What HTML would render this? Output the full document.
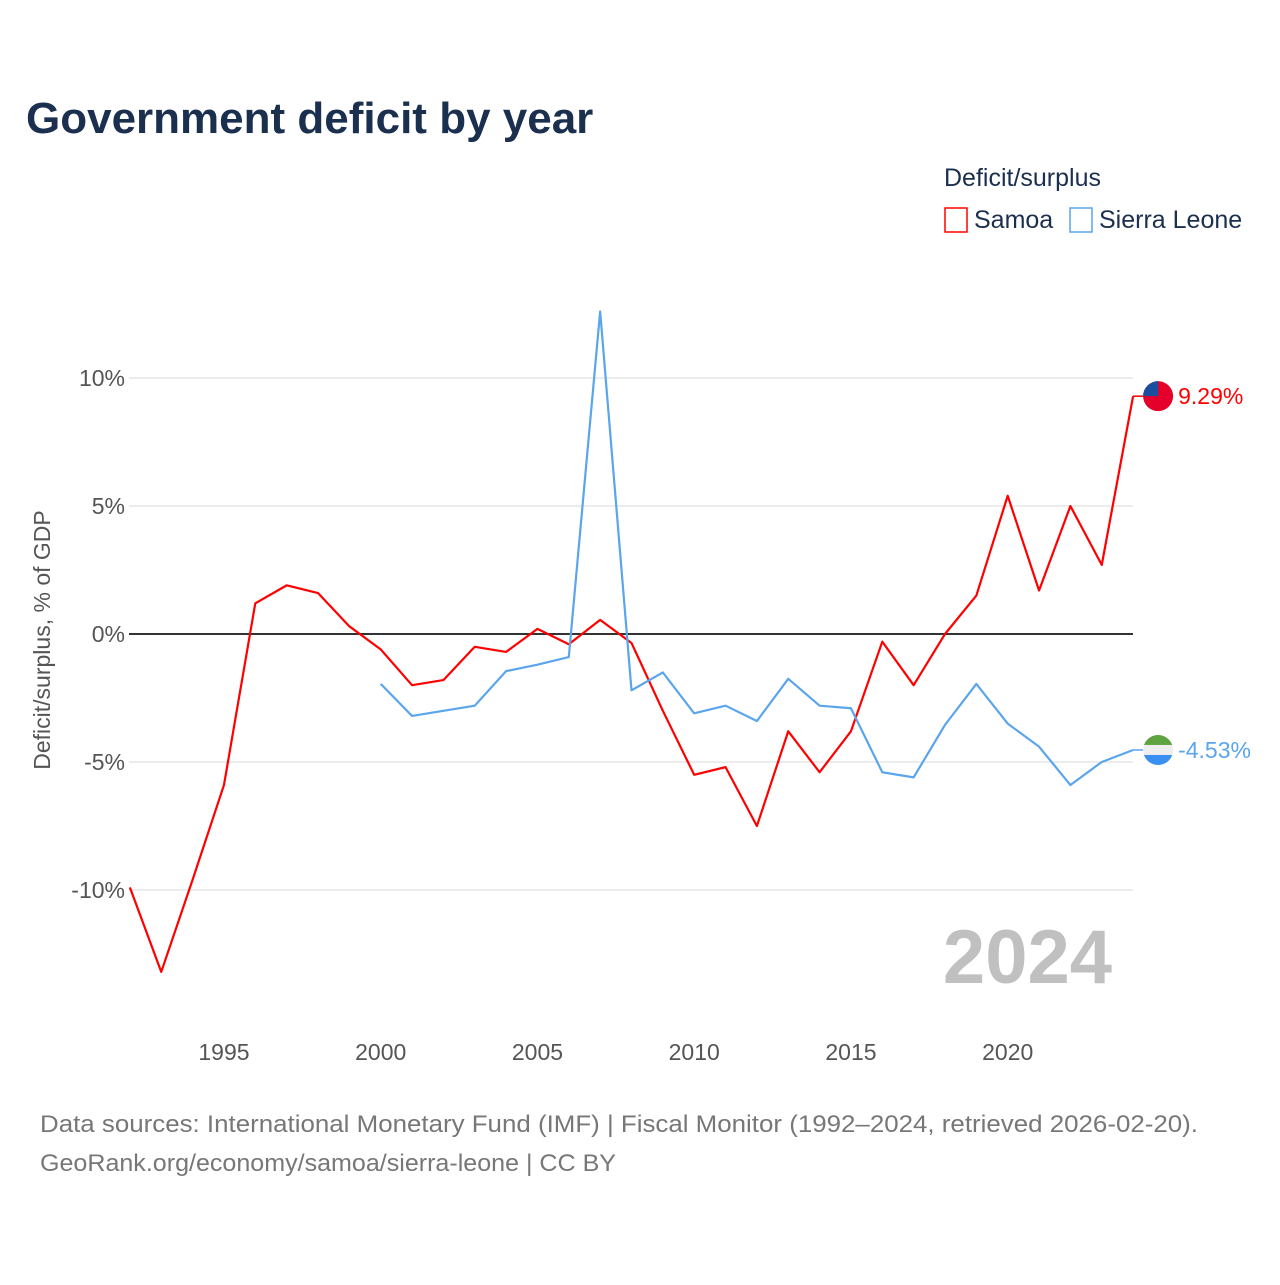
<!DOCTYPE html>
<html><head><meta charset="utf-8"><style>
body{margin:0;background:#fff;font-family:"Liberation Sans",sans-serif}
svg text{font-family:"Liberation Sans",sans-serif}
</style></head><body>
<svg id="c" width="1280" height="1280" viewBox="0 0 1280 1280">
<text x="26" y="133" font-size="44" font-weight="bold" fill="#1b2f4e">Government deficit by year</text>
<text x="944" y="186" font-size="25" fill="#1b2f4e">Deficit/surplus</text>
<g><rect x="945" y="208" width="22" height="24" fill="none" stroke="#f00" stroke-width="1.5"/><text x="974" y="228" font-size="25" fill="#1b2f4e">Samoa</text></g>
<g><rect x="1070" y="208" width="22" height="24" fill="none" stroke="#5aa5ec" stroke-width="1.5"/><text x="1099" y="228" font-size="25" fill="#1b2f4e">Sierra Leone</text></g>
<text transform="translate(50,640) rotate(-90)" text-anchor="middle" font-size="23" fill="#555">Deficit/surplus, % of GDP</text>
<g id="grid"></g><g id="marks"></g>
<text x="1112" y="983" text-anchor="end" font-size="76" font-weight="bold" fill="#c0c0c0">2024</text>
<text x="40" y="1132" font-size="24" fill="#777" textLength="1158" lengthAdjust="spacingAndGlyphs">Data sources: International Monetary Fund (IMF) | Fiscal Monitor (1992–2024, retrieved 2026-02-20).</text>
<text x="40" y="1171" font-size="24" fill="#777" textLength="576" lengthAdjust="spacingAndGlyphs">GeoRank.org/economy/samoa/sierra-leone | CC BY</text>
</svg>
<script>
const yTicks=[10,5,0,-5,-10];
const yTickLabels=["10%","5%","0%","-5%","-10%"];
const xTicks=[1995,2000,2005,2010,2015,2020];
const samoaYears=[1992,1993,1994,1995,1996,1997,1998,1999,2000,2001,2002,2003,2004,2005,2006,2007,2008,2009,2010,2011,2012,2013,2014,2015,2016,2017,2018,2019,2020,2021,2022,2023,2024];
const samoaValues=[-9.9,-13.2,-9.6,-5.9,1.2,1.9,1.6,0.3,-0.6,-2.0,-1.8,-0.5,-0.7,0.2,-0.4,0.55,-0.35,-3.0,-5.5,-5.2,-7.5,-3.8,-5.4,-3.8,-0.3,-2.0,0.0,1.5,5.4,1.7,5.0,2.7,9.29];
const sleYears=[2000,2001,2002,2003,2004,2005,2006,2007,2008,2009,2010,2011,2012,2013,2014,2015,2016,2017,2018,2019,2020,2021,2022,2023,2024];
const sleValues=[-1.95,-3.2,-3.0,-2.8,-1.45,-1.2,-0.9,12.6,-2.2,-1.5,-3.1,-2.8,-3.4,-1.75,-2.8,-2.9,-5.4,-5.6,-3.55,-1.95,-3.5,-4.4,-5.9,-5.0,-4.53];
const X=y=>129.9+(y-1992)*31.35, Y=v=>634-v*25.6;
const NS="http://www.w3.org/2000/svg";
function mk(t,a,p){const e=document.createElementNS(NS,t);for(const k in a)e.setAttribute(k,a[k]);p.appendChild(e);return e;}
const grid=document.getElementById('grid'),marks=document.getElementById('marks');
yTicks.forEach((v,i)=>{
 if(v!==0){const l=mk('line',{x1:129,x2:1133,y1:Y(v),y2:Y(v),stroke:'#e6e6e6','stroke-width':1.5},grid);
 
 }
 const t=mk('text',{x:125,y:Y(v)+8,'text-anchor':'end','font-size':23,fill:'#555'},grid);t.textContent=yTickLabels[i];
 
 
});
xTicks.forEach(y=>{const t=mk('text',{x:X(y),y:1060,'text-anchor':'middle','font-size':23,fill:'#555'},grid);t.textContent=y;
 
 });
const z=mk('line',{x1:129,x2:1133,y1:Y(0),y2:Y(0),stroke:'#333','stroke-width':2},grid);


function series(ys,vs,col,name){
 const p=mk('polyline',{points:ys.map((y,i)=>X(y)+','+Y(vs[i])).join(' '),fill:'none',stroke:col,'stroke-width':2.2,'stroke-linejoin':'round'},marks);
 
 
 const lv=vs[vs.length-1],lx=X(ys[ys.length-1]),ly=Y(lv);
 mk('line',{x1:lx,x2:lx+10,y1:ly,y2:ly,stroke:col,'stroke-width':1.5},marks);
 return [lx+25,ly,lv];
}
const [sx,sy,sv]=series(samoaYears,samoaValues,'#f00','samoa');
const [lx,ly,lv]=series(sleYears,sleValues,'#5aa5ec','sierra-leone');
const f1=mk('g',{},marks);


mk('circle',{cx:sx,cy:sy,r:15,fill:'#e4002b'},f1);
mk('path',{d:`M${sx-15},${sy} A15,15 0 0 1 ${sx},${sy-15} L${sx},${sy} Z`,fill:'#1a4fa0'},f1);
const t1=mk('text',{x:sx+20,y:sy+8,'font-size':23,fill:'#f00'},marks);t1.textContent=sv.toFixed(2)+'%';


const f2=mk('g',{},marks);


mk('clipPath',{id:'cl'},f2);
mk('circle',{cx:lx,cy:ly,r:15},document.getElementById('cl'));
mk('rect',{x:lx-15,y:ly-15,width:30,height:10,fill:'#5ea33f','clip-path':'url(#cl)'},f2);
mk('rect',{x:lx-15,y:ly-5,width:30,height:10,fill:'#eee','clip-path':'url(#cl)'},f2);
mk('rect',{x:lx-15,y:ly+5,width:30,height:10,fill:'#3a8ff0','clip-path':'url(#cl)'},f2);
const t2=mk('text',{x:lx+20,y:ly+8,'font-size':23,fill:'#5aa5ec'},marks);t2.textContent=lv.toFixed(2)+'%';


</script>
</body></html>
